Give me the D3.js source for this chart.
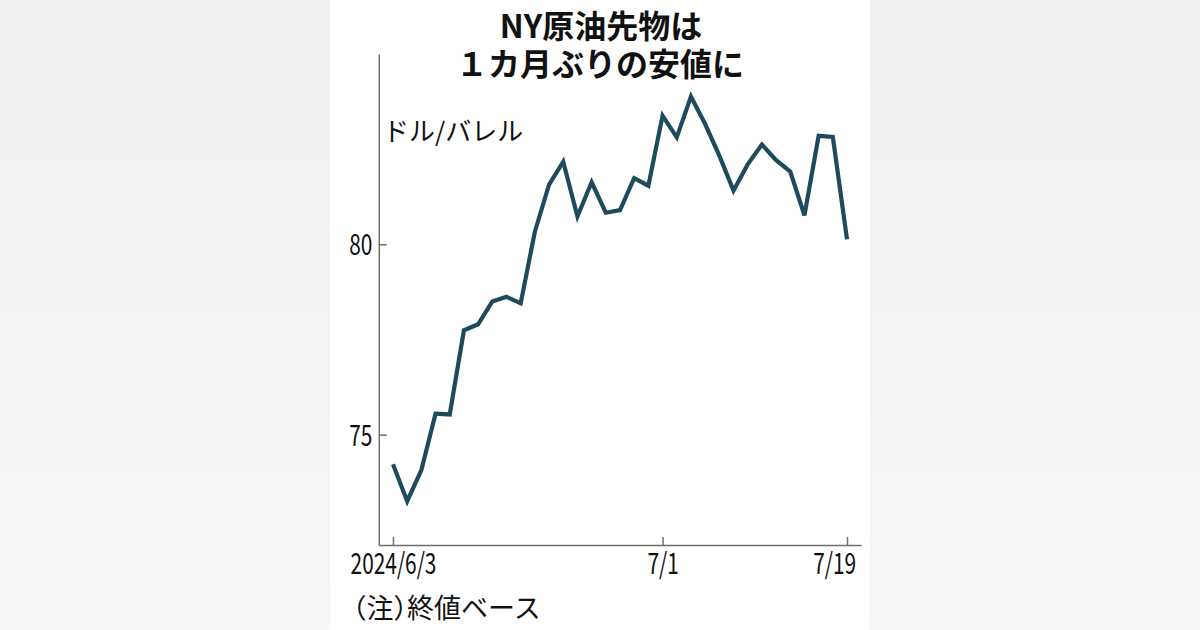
<!DOCTYPE html>
<head>
  <meta charset="utf-8" />
  <script src="https://d3js.org/d3.v7.min.js"></script>
  <style>
    body {
      margin: 0;
      background: #f3f3f3;
    }
    text {
      font-family: "Noto Sans CJK JP", "Noto Sans", sans-serif;
      fill: #111;
    }
    .axis path,
    .axis line {
      stroke: #6e6e6e;
      stroke-width: 1.5;
    }
  </style>
</head>

<body>
  <script>
    // 営業日ごとのWTI終値（ドル/バレル）
    var days = ["6/3", "6/4", "6/5", "6/6", "6/7", "6/10", "6/11", "6/12", "6/13", "6/14",
      "6/17", "6/18", "6/20", "6/21", "6/24", "6/25", "6/26", "6/27", "6/28",
      "7/1", "7/2", "7/3", "7/5", "7/8", "7/9", "7/10", "7/11", "7/12",
      "7/15", "7/16", "7/17", "7/18", "7/19"];
    var closes = [74.22, 73.25, 74.07, 75.55, 75.53, 77.74, 77.90, 78.50, 78.62, 78.45,
      80.33, 81.57, 82.17, 80.73, 81.63, 80.83, 80.90, 81.74, 81.54,
      83.38, 82.81, 83.88, 83.16, 82.33, 81.41, 82.10, 82.62, 82.21,
      81.91, 80.76, 82.85, 82.82, 80.13];
    var yTicks = [75, 80];
    var xTickDays = ["6/3", "7/1", "7/19"];
    var xTickLabels = ["2024/6/3", "7/1", "7/19"];
    var titleLines = ["NY原油先物は", "１カ月ぶりの安値に"];

    var width = 1200,
      height = 630;

    var svg = d3.select("body").append("svg")
      .attr("width", width)
      .attr("height", height);

    // 背景（左右はぼかし風のグレー）
    var defs = svg.append("defs");
    var grad = defs.append("linearGradient")
      .attr("id", "bg").attr("x1", 0).attr("y1", 0).attr("x2", 0).attr("y2", 1);
    grad.append("stop").attr("offset", "0%").attr("stop-color", "#efefef");
    grad.append("stop").attr("offset", "100%").attr("stop-color", "#f7f7f7");
    svg.append("rect").attr("width", width).attr("height", height).attr("fill", "url(#bg)");
    svg.append("rect").attr("x", 330).attr("width", 540).attr("height", height).attr("fill", "#fff");

    var x = d3.scaleLinear().domain([-1, days.length]).range([378.8, 861.2]);
    var y = d3.scaleLinear().domain([72.1, 85]).range([545, 54]);

    // 軸
    var yAxis = svg.append("g")
      .attr("class", "axis")
      .attr("transform", "translate(" + x(-1) + ",0)")
      .call(d3.axisLeft(y).tickValues(yTicks).tickSizeInner(-8).tickSizeOuter(0).tickPadding(9));

    var xAxis = svg.append("g")
      .attr("class", "axis")
      .attr("transform", "translate(0," + y(72.1) + ")")
      .call(d3.axisBottom(x)
        .tickValues(xTickDays.map(function (d) { return days.indexOf(d); }))
        .tickFormat(function (d, i) { return xTickLabels[i]; })
        .tickSizeInner(-8).tickSizeOuter(0).tickPadding(8));

    svg.selectAll(".axis text")
      .style("font-size", "29px")
      .attr("fill", "#111")
      .attr("transform", "scale(0.72,1)");
    yAxis.selectAll("text").attr("dy", "0.36em");
    xAxis.selectAll("text").attr("dy", "0.74em");
    // 最後の日付は枠内に収める
    xAxis.selectAll(".tick:last-of-type text")
      .attr("text-anchor", "end")
      .attr("x", 12);

    // 折れ線
    var line = d3.line()
      .x(function (d, i) { return x(i); })
      .y(function (d) { return y(d); });

    svg.append("path")
      .datum(closes)
      .attr("fill", "none")
      .attr("stroke", "#1d4b5d")
      .attr("stroke-width", 4.2)
      .attr("stroke-linejoin", "miter")
      .attr("d", line);

    // タイトル（2行）
    svg.append("text")
      .attr("text-anchor", "middle")
      .style("font-size", "32px").style("font-weight", 700)
      .selectAll("tspan")
      .data(titleLines)
      .join("tspan")
      .attr("x", function (d, i) { return i == 0 ? 601 : 600; })
      .attr("y", function (d, i) { return i == 0 ? 38 : 76; })
      .text(function (d) { return d; });

    svg.append("text")
      .attr("x", 383).attr("y", 141)
      .style("font-size", "26px")
      .text("ドル/バレル");

    svg.append("text")
      .attr("x", 353).attr("y", 618)
      .style("font-size", "27px")
      .style("font-feature-settings", "'halt'")
      .text("（注）終値ベース");
  </script>
</body>
